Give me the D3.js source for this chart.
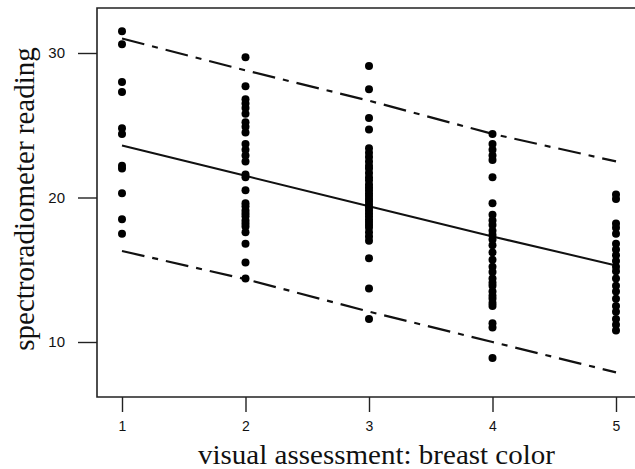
<!DOCTYPE html>
<html>
<head>
<meta charset="utf-8">
<script src="https://cdn.jsdelivr.net/npm/d3@7"></script>
<style>
  body { margin: 0; background: #fff; }
</style>
</head>
<body>
<div id="chart"></div>
<script>
// visual score groups (x) and spectroradiometer readings
var groups = [1, 2, 3, 4, 5]
var readings1 = [31.5, 30.6, 28.0, 27.3, 24.8, 24.4, 22.2, 22.0, 20.3, 18.5, 17.5]
var readings2 = [29.7, 27.7, 26.8, 26.5, 26.2, 25.8, 25.2, 24.9, 24.5, 23.7, 23.3, 22.9, 22.5, 21.6,
    21.4, 20.5, 19.6, 19.4, 19.1, 18.9, 18.7, 18.4, 18.2, 18.0, 17.6, 16.8, 15.5, 14.4]
var readings3 = [29.1, 27.5, 25.5, 24.7, 23.4, 23.1, 22.8, 22.5, 22.2, 22.0, 21.7, 21.4, 21.2, 20.9,
    20.7, 20.5, 20.3, 20.1, 19.9, 19.7, 19.5, 19.3, 19.1, 18.9, 18.7, 18.5, 18.3, 18.1, 17.9,
    17.6, 17.3, 17.0, 15.8, 13.7, 11.6]
var readings4 = [24.4, 23.7, 23.3, 22.9, 22.6, 21.4, 19.6, 18.8, 18.4, 18.1, 17.7, 17.4, 17.1, 16.7,
    16.2, 15.7, 15.2, 14.85, 14.4, 14.1, 13.9, 13.5, 13.2, 13.0, 12.7, 12.5, 11.3, 11.0, 8.9]
var readings5 = [20.2, 19.9, 18.2, 17.9, 17.5, 16.8, 16.4, 16.0, 15.6, 15.2, 14.9, 14.4, 13.9, 13.5,
    13.0, 12.5, 12.1, 11.6, 11.2, 10.8]

// fitted line and prediction band at each group
var fitLine = [23.6, 21.5, 19.4, 17.3, 15.3]
var upperBand = [31.0, 28.8, 26.7, 24.4, 22.5]
var lowerBand = [16.3, 14.35, 12.1, 10.0, 7.9]

var xTicks = [1, 2, 3, 4, 5]
var yTicks = [10, 20, 30]

let svg_width = 635
let svg_height = 469

var svg = d3.select("#chart")
    .append("svg")
    .attr("width", svg_width)
    .attr("height", svg_height)

var box = { left: 97, top: 8, bottom: 397 }

var xScale = d3.scaleLinear()
    .domain([1, 5])
    .range([122, 616])

var yScale = d3.scaleLinear()
    .domain([10, 30])
    .range([342, 53])

var points = []
var allReadings = [readings1, readings2, readings3, readings4, readings5]
groups.forEach(function(g, i) {
    allReadings[i].forEach(function(v) { points.push({ x: g, y: v }) })
})

// frame (right side runs off the picture)
svg.append("path")
    .attr("d", "M" + (svg_width + 5) + "," + box.top + "H" + box.left + "V" + box.bottom + "H" + (svg_width + 5))
    .style("fill", "none")
    .style("stroke", "#222")
    .style("stroke-width", "1.6px")

// Y axis
var yAxis = svg.append("g")
    .attr("transform", "translate(" + box.left + ",0)")
    .call(d3.axisLeft(yScale).tickValues(yTicks).tickFormat(d3.format("d")).tickSize(19).tickPadding(13))
yAxis.select(".domain").remove()
yAxis.selectAll(".tick line").style("stroke", "#222").style("stroke-width", "1.4px")
yAxis.selectAll(".tick text")
    .style("font-family", '"Liberation Sans", Arial, sans-serif')
    .style("font-size", "15px")
    .attr("fill", "#111")

// X axis
var xAxis = svg.append("g")
    .attr("transform", "translate(0," + box.bottom + ")")
    .call(d3.axisBottom(xScale).tickValues(xTicks).tickFormat(d3.format("d")).tickSize(15).tickPadding(9))
xAxis.select(".domain").remove()
xAxis.selectAll(".tick line").style("stroke", "#222").style("stroke-width", "1.4px")
xAxis.selectAll(".tick text")
    .style("font-family", '"Liberation Sans", Arial, sans-serif')
    .style("font-size", "14px")
    .attr("fill", "#111")

svg.append('text')
    .attr('x', 198)
    .attr('y', 464)
    .attr('textLength', 357)
    .attr('lengthAdjust', 'spacingAndGlyphs')
    .style("font-family", '"Liberation Serif", "Times New Roman", serif')
    .style("font-size", "28px")
    .attr('fill', '#111')
    .text("visual assessment: breast color")

svg.append('text')
    .attr('transform', 'translate(34,' + 199 + ') rotate(-90)')
    .style('text-anchor', 'middle')
    .style("font-family", '"Liberation Serif", "Times New Roman", serif')
    .style("font-size", "29px")
    .attr('fill', '#111')
    .text("spectroradiometer reading")

// lines
var line = d3.line()
    .x((d, i) => xScale(groups[i]))
    .y(d => yScale(d))

svg.append("path")
    .datum(fitLine)
    .attr("d", line)
    .style("fill", "none")
    .style("stroke", "#111")
    .style("stroke-width", "2px")

svg.append("g").selectAll("path").data([upperBand, lowerBand])
    .enter().append("path")
    .attr("d", line)
    .style("fill", "none")
    .style("stroke", "#111")
    .style("stroke-width", "2.2px")
    .style("stroke-dasharray", "23,8,6,8")

// points
svg.append("g").selectAll('circle').data(points)
    .enter().append('circle')
    .attr('cx', d => xScale(d.x))
    .attr('cy', d => yScale(d.y))
    .attr('r', 4)
    .style("fill", "#000")
</script>
</body>
</html>
